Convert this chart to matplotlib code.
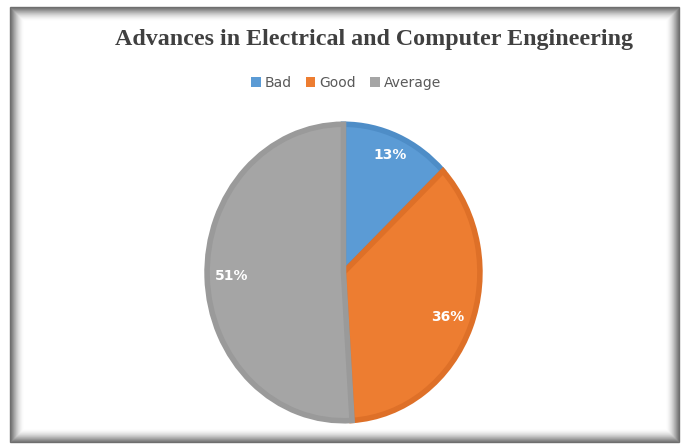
import matplotlib
matplotlib.use("Agg")
import matplotlib.pyplot as plt
from matplotlib.patches import Rectangle
import numpy as np

# Data
labels = ["Bad", "Good", "Average"]
shares = [13, 36, 51]
colors = ["#5B9BD5", "#ED7D31", "#A5A5A5"]
edge_colors = ["#4E8DC7", "#DE7028", "#9A9A9A"]
label_dist = [0.85, 0.81, 0.81]

W, H = 683, 445
fig = plt.figure(figsize=(W / 100, H / 100), dpi=100)
fig.patch.set_facecolor("white")

# framed box with soft inner shadow
x0, y0, x1, y1 = 10, 7, 679, 442
for i in range(14):
    a = 0.85 * (1 - i / 14) ** 2
    fig.add_artist(Rectangle(((x0 + i) / W, 1 - (y1 - i) / H),
                             (x1 - x0 - 2 * i) / W, (y1 - y0 - 2 * i) / H,
                             transform=fig.transFigure, fill=False,
                             edgecolor=(0.35, 0.35, 0.35, a), linewidth=1.0))

# the source image is slightly stretched vertically, so the pie is an ellipse
px0, px1, py0, py1 = 205, 482, 122, 423
ax = fig.add_axes([px0 / W, 1 - py1 / H, (px1 - px0) / W, (py1 - py0) / H])
wedges, _ = ax.pie(shares, colors=colors, startangle=90, counterclock=False,
                   radius=0.985, wedgeprops=dict(linewidth=4, joinstyle="miter"))
for w, ec in zip(wedges, edge_colors):
    w.set_edgecolor(ec)
ax.set_xlim(-1, 1)
ax.set_ylim(-1, 1)
ax.set_aspect("auto")

for w, s, d in zip(wedges, shares, label_dist):
    ang = np.deg2rad((w.theta1 + w.theta2) / 2)
    ax.text(d * np.cos(ang), d * np.sin(ang), f"{s}%", ha="center", va="center",
            color="white", fontsize=10, fontweight="bold", family="DejaVu Sans")

fig.text(0.5 * (115 + 633) / W, 1 - 40 / H, "Advances in Electrical and Computer Engineering",
         ha="center", va="center", fontsize=17.3, fontweight="bold",
         family="Liberation Serif", color="#404040")

leg = fig.legend(wedges, labels, loc="center", bbox_to_anchor=(346 / W, 1 - 83 / H),
                 ncol=3, frameon=False, fontsize=10, handlelength=0.7, handleheight=0.7,
                 handletextpad=0.3, columnspacing=1.0)
for t in leg.get_texts():
    t.set_color("#595959")
for h in leg.legend_handles:
    h.set_linewidth(0)

fig.savefig("out.png", dpi=100)
